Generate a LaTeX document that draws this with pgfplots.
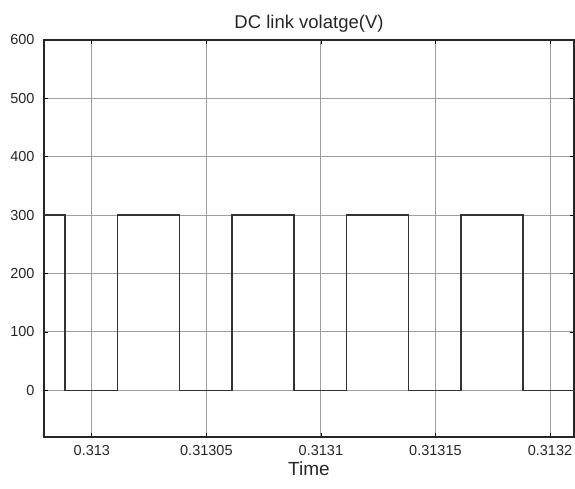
\documentclass[border=0pt]{standalone}
\usepackage{pgfplots}
\pgfplotsset{compat=1.18}
\usepackage{fontspec}
\setmainfont{Liberation Sans}
\usetikzlibrary{calc}
\begin{document}
\begin{tikzpicture}
\begin{axis}[
  scale only axis,
  width=530pt, height=397pt,
  xmin=-20.9, xmax=210.5,
  ymin=-80, ymax=600,
  xtick={0,50,100,150,200},
  xticklabels={0.313,0.31305,0.3131,0.31315,0.3132},
  ytick={0,100,200,300,400,500,600},
  /pgf/number format/assume math mode=true,
  tick label style={font=\fontsize{14.5}{16}\selectfont, black!85},
  yticklabel style={xshift=-6pt},
  xticklabel style={yshift=-5pt},
  grid=major,
  major grid style={gray!75, line width=0.9pt},
  axis line style={black!85, line width=1.4pt},
  tick style={black, line width=0.8pt},
  tick align=inside,
  major tick length=4pt,
  title={DC link volatge(V)},
  title style={font=\fontsize{18.5}{20}\selectfont, black!85, yshift=-2pt},
  xlabel={Time},
  xlabel style={font=\fontsize{19}{20}\selectfont, black!85, yshift=1pt},
  axis background/.style={fill=white},
]
\addplot[black!80, line width=1.4pt] coordinates {
(-20.9,300) (-11.7,300) (-11.7,0) (11.2,0) (11.2,300) (38.3,300) (38.3,0)
(61.2,0) (61.2,300) (88.3,300) (88.3,0)
(111.2,0) (111.2,300) (138.3,300) (138.3,0)
(161.2,0) (161.2,300) (188.3,300) (188.3,0) (210.5,0)
};
\end{axis}
\pgfresetboundingbox
\useasboundingbox ($(current axis.south west)+(-44pt,-52pt)$) rectangle ($(current axis.north east)+(1pt,40pt)$);
\end{tikzpicture}
\end{document}
